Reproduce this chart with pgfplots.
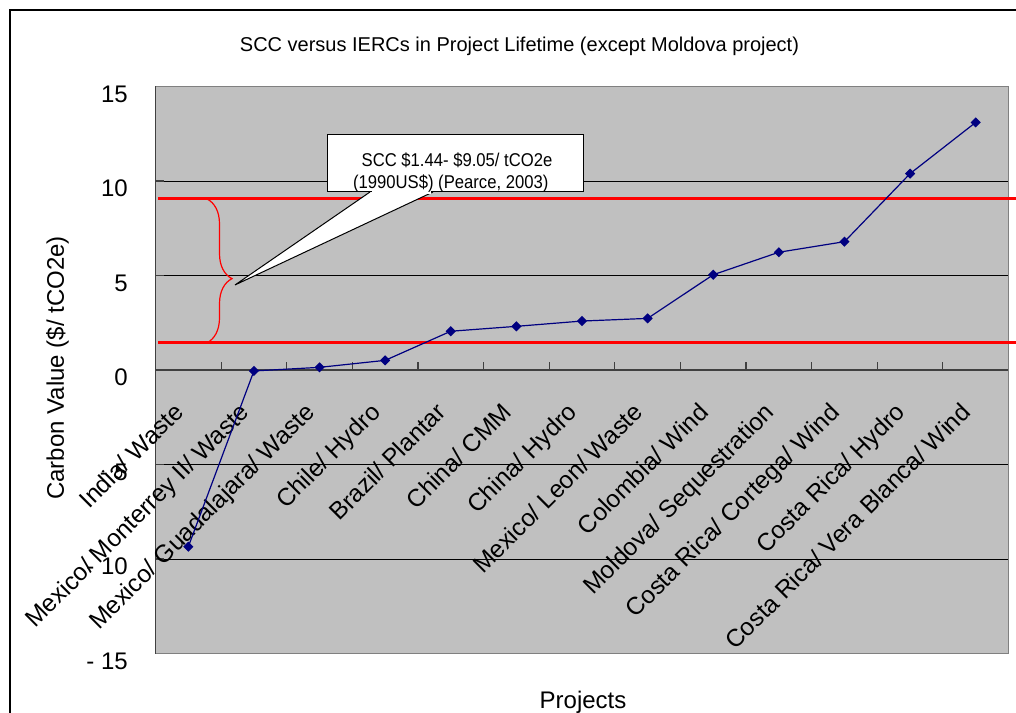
\documentclass[border=0pt]{standalone}
\usepackage{pgfplots}
\pgfplotsset{compat=1.18}
\usepackage{fontspec}
\setmainfont{Liberation Sans}
\usetikzlibrary{decorations.pathreplacing}

\definecolor{plotgrey}{HTML}{C0C0C0}
\definecolor{framegrey}{HTML}{808080}
\definecolor{axisgrey}{HTML}{404040}
\definecolor{seriesnavy}{HTML}{000080}
\definecolor{rangered}{HTML}{FF0000}

\begin{document}
\begin{tikzpicture}
\useasboundingbox (0,0) rectangle (1016pt,712pt);
% outer chart frame
\draw[line width=2pt] (9.5pt,-5pt) -- (9.5pt,702pt) -- (1040pt,702pt);
\begin{axis}[
  at={(155.5pt,58.5pt)}, anchor=south west,
  scale only axis, width=853pt, height=567pt,
  xmin=-0.5, xmax=12.5, ymin=-15, ymax=15,
  clip=false,
  axis x line*=middle, axis y line*=left,
  hide obscured x ticks=false, hide obscured y ticks=false,
  axis line style={axisgrey, line width=1.8pt},
  axis background/.style={fill=plotgrey},
  xtick={0,...,12},
  xticklabels={India/ Waste, Mexico/ Monterrey II/ Waste, Mexico/ Guadalajara/ Waste,
    Chile/ Hydro, Brazil/ Plantar, China/ CMM, China/ Hydro, Mexico/ Leon/ Waste,
    Colombia/ Wind, Moldova/ Sequestration, Costa Rica/ Cortega/ Wind,
    Costa Rica/ Hydro, Costa Rica/ Vera Blanca/ Wind},
  minor xtick={-0.5,0.5,...,12.5},
  major x tick style={draw=none},
  minor x tick style={axisgrey, line width=1.2pt},
  minor tick length=8pt,
  xtick align=inside,
  ytick={-15,-10,...,15},
  yticklabels={- 15,- 10,- 5,0,5,10,15},
  ytick align=inside, major tick length=8pt,
  y tick style={axisgrey, line width=1.2pt},
  ymajorgrids, grid style={black, line width=0.9pt},
  xticklabel style={xshift=-16pt, yshift=-31pt, rotate=45, anchor=north east,
    inner sep=0pt, font=\fontsize{24.5}{29}\selectfont},
  yticklabel style={xshift=-27.5pt, yshift=-7.5pt, anchor=east, inner sep=0pt,
    font=\fontsize{24}{28}\selectfont},
  title={SCC versus IERCs in Project Lifetime (except Moldova project)},
  title style={at={(axis description cs:0.4267,1.052)}, anchor=base, inner sep=0pt,
    font=\fontsize{20}{24}\selectfont},
  xlabel={Projects},
  xlabel style={at={(axis description cs:0.5012,-0.0975)}, anchor=base, inner sep=0pt,
    font=\fontsize{24}{28}\selectfont},
  ylabel={Carbon Value (\$/ tCO2e)},
  ylabel style={at={(axis description cs:-0.1073,0.5035)}, anchor=base, inner sep=0pt,
    font=\fontsize{24}{28}\selectfont},
]
% plot area frame (top, right, bottom)
\draw[framegrey, line width=1.5pt] (rel axis cs:0,0) -- (rel axis cs:1,0)
  -- (rel axis cs:1,1) -- (rel axis cs:0,1);

% SCC range bounds (Pearce, 2003)
\addplot[rangered, line width=3pt, forget plot] coordinates {(-0.46,9.05) (12.8,9.05)};
\addplot[rangered, line width=3pt, forget plot] coordinates {(-0.46,1.44) (12.8,1.44)};
\draw[rangered, line width=1.2pt, decorate,
  decoration={brace, amplitude=25pt, aspect=0.554}]
  (axis cs:0.285,9.05) -- (axis cs:0.285,1.44);

% callout
\draw[black, line width=1pt, fill=white]
  (axis cs:2.769,9.418) -- (axis cs:0.712,4.5) -- (axis cs:3.729,9.418);
\draw[black, line width=1pt, fill=white]
  (axis cs:2.114,9.418) rectangle (axis cs:6.016,12.434);
\fill[white] (axis cs:2.80,9.30) rectangle (axis cs:3.70,9.45);
\node[anchor=base, inner sep=0pt, font=\fontsize{18.5}{22}\selectfont]
  at (axis cs:4.095,10.757) {\scalebox{0.9}[1]{SCC \$1.44- \$9.05/ tCO2e}};
\node[anchor=base, inner sep=0pt, font=\fontsize{18.5}{22}\selectfont]
  at (axis cs:4.0,9.614) {\scalebox{0.9}[1]{(1990US\$) (Pearce, 2003)}};

% carbon value per project
\addplot[seriesnavy, line width=1.2pt, mark=square*,
  mark options={rotate=45, fill=seriesnavy, solid}, mark size=3pt]
  coordinates {
  (0,-9.35) (1,-0.05) (2,0.14) (3,0.51) (4,2.05) (5,2.31) (6,2.59)
  (7,2.73) (8,5.04) (9,6.23) (10,6.79) (11,10.39) (12,13.10)
  };
\end{axis}
\end{tikzpicture}
\end{document}
